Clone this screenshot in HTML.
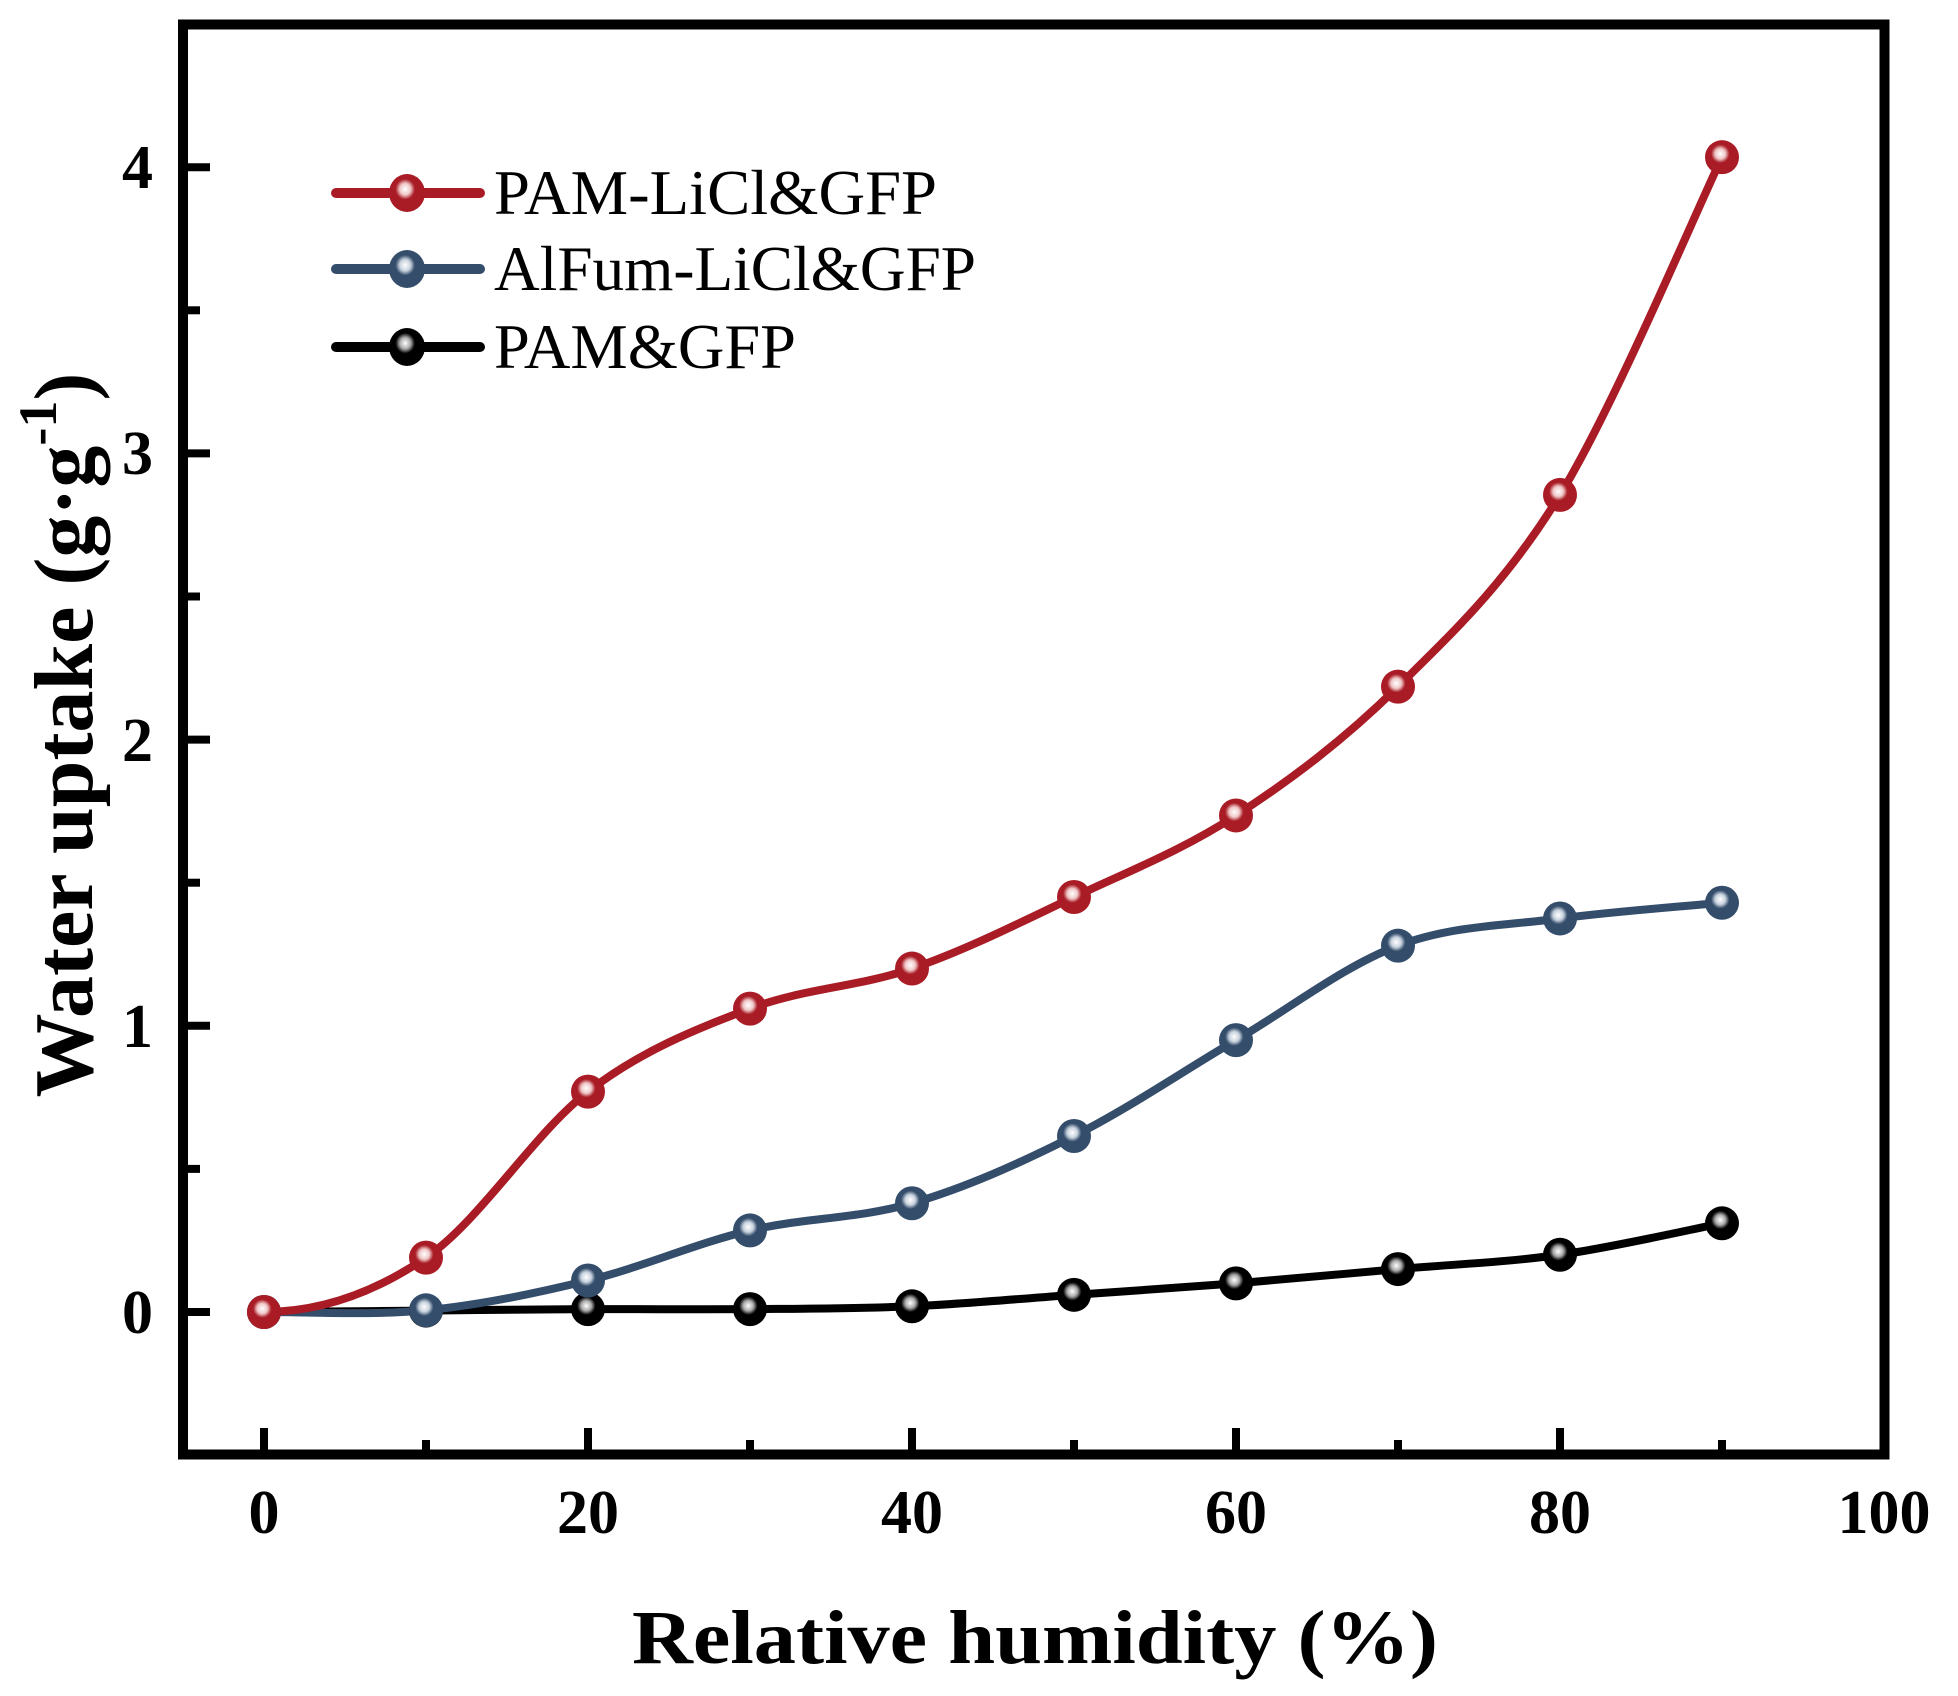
<!DOCTYPE html>
<html><head><meta charset="utf-8"><style>
html,body{margin:0;padding:0;background:#fff;}
svg{display:block;}
text{font-family:"Liberation Serif",serif;}
</style></head><body>
<svg id="s" width="1958" height="1696" viewBox="0 0 1958 1696" xmlns="http://www.w3.org/2000/svg">
<defs>
<radialGradient id="gr" cx="0.45" cy="0.4" r="0.6"><stop offset="0" stop-color="#fff"/><stop offset="0.25" stop-color="#f0c8c8"/><stop offset="0.45" stop-color="#a91c26"/><stop offset="1" stop-color="#a91c26"/></radialGradient>
<radialGradient id="gb" cx="0.45" cy="0.4" r="0.6"><stop offset="0" stop-color="#fff"/><stop offset="0.25" stop-color="#c8d2de"/><stop offset="0.45" stop-color="#344d6b"/><stop offset="1" stop-color="#344d6b"/></radialGradient>
<radialGradient id="gk" cx="0.45" cy="0.4" r="0.6"><stop offset="0" stop-color="#fff"/><stop offset="0.25" stop-color="#aaa"/><stop offset="0.45" stop-color="#000"/><stop offset="1" stop-color="#000"/></radialGradient>
</defs>
<g id="ticks" stroke="#000" stroke-width="8"></g>
<rect x="183" y="24.5" width="1701.5" height="1430" fill="none" stroke="#000" stroke-width="10"/>
<g font-weight="bold" font-size="62" text-anchor="middle">
<text x="264" y="1533">0</text><text x="588" y="1533">20</text><text x="912" y="1533">40</text><text x="1236" y="1533">60</text><text x="1560" y="1533">80</text><text x="1884" y="1533">100</text>
</g>
<g font-weight="bold" font-size="62" text-anchor="end">
<text x="153" y="1333">0</text><text x="153" y="1047">1</text><text x="153" y="761">2</text><text x="153" y="474">3</text><text x="153" y="188">4</text>
</g>
<text x="1035" y="1663" font-weight="bold" font-size="76" text-anchor="middle" textLength="806" lengthAdjust="spacingAndGlyphs">Relative humidity (%)</text>
<text transform="translate(92,735) rotate(-90)" font-weight="bold" font-size="84" text-anchor="middle">Water uptake (g·g<tspan font-size="54" dy="-36">-1</tspan><tspan dy="36">)</tspan></text>
<g id="series"></g>
<g font-size="64">
<text x="494" y="214" textLength="443" lengthAdjust="spacingAndGlyphs">PAM-LiCl&amp;GFP</text>
<text x="494" y="290" textLength="482" lengthAdjust="spacingAndGlyphs">AlFum-LiCl&amp;GFP</text>
<text x="494" y="368" textLength="302" lengthAdjust="spacingAndGlyphs">PAM&amp;GFP</text>
</g>
<g stroke-linecap="round" stroke-width="10">
<line x1="336" y1="193" x2="480" y2="193" stroke="#a91c26"/>
<line x1="336" y1="269" x2="480" y2="269" stroke="#344d6b"/>
<line x1="336" y1="347" x2="480" y2="347" stroke="#000"/>
</g>
<ellipse cx="407" cy="193" rx="18" ry="19" fill="url(#gr)"/>
<ellipse cx="407" cy="269" rx="18" ry="19" fill="url(#gb)"/>
<ellipse cx="407" cy="347" rx="18" ry="19" fill="url(#gk)"/>
</svg>
<script>
var X=v=>264+16.2*v, Y=v=>1312-286.2*v;
var t=document.getElementById('ticks'),h='';
for(var v=0;v<=100;v+=10){var L=(v%20==0)?22:10;h+='<line x1="'+X(v)+'" y1="1450" x2="'+X(v)+'" y2="'+(1450-L)+'"/>';}
for(var v=-0.5;v<=4.5;v+=0.5){var L=(Math.abs(v%1)<0.01)?22:12;if(v<-0.4||v>4.4)continue;h+='<line x1="188" y1="'+Y(v)+'" x2="'+(188+L)+'" y2="'+Y(v)+'"/>';}
t.innerHTML=h;
var data=[
 ['#000','gk',[0,0.005,0.01,0.01,0.02,0.06,0.1,0.15,0.2,0.31]],
 ['#344d6b','gb',[0,0.006,0.11,0.285,0.38,0.615,0.95,1.28,1.375,1.43]],
 ['#a91c26','gr',[0,0.19,0.77,1.06,1.2,1.45,1.735,2.185,2.855,4.035]]];
var s='';
data.forEach(function(d){
 var p=d[2].map((y,i)=>[X(i*10),Y(y)]);
 var path='M'+p[0][0]+','+p[0][1];
 for(var i=0;i<p.length-1;i++){
  var p0=p[Math.max(i-1,0)],p1=p[i],p2=p[i+1],p3=p[Math.min(i+2,p.length-1)];
  var c1=[p1[0]+(p2[0]-p0[0])/6,p1[1]+(p2[1]-p0[1])/6],c2=[p2[0]-(p3[0]-p1[0])/6,p2[1]-(p3[1]-p1[1])/6];
  if(i==0){c1=[p1[0]+(p2[0]-p1[0])/3,p1[1]];}
  path+=' C'+c1+' '+c2+' '+p2;
 }
 s+='<path d="'+path+'" fill="none" stroke="'+d[0]+'" stroke-width="8"/>';
 d.pts=p;
});
data.forEach(function(d){d.pts.forEach(function(q){s+='<circle cx="'+q[0]+'" cy="'+q[1]+'" r="17" fill="url(#'+d[1]+')"/>';});});
document.getElementById('series').innerHTML=s;
</script>
</body></html>
